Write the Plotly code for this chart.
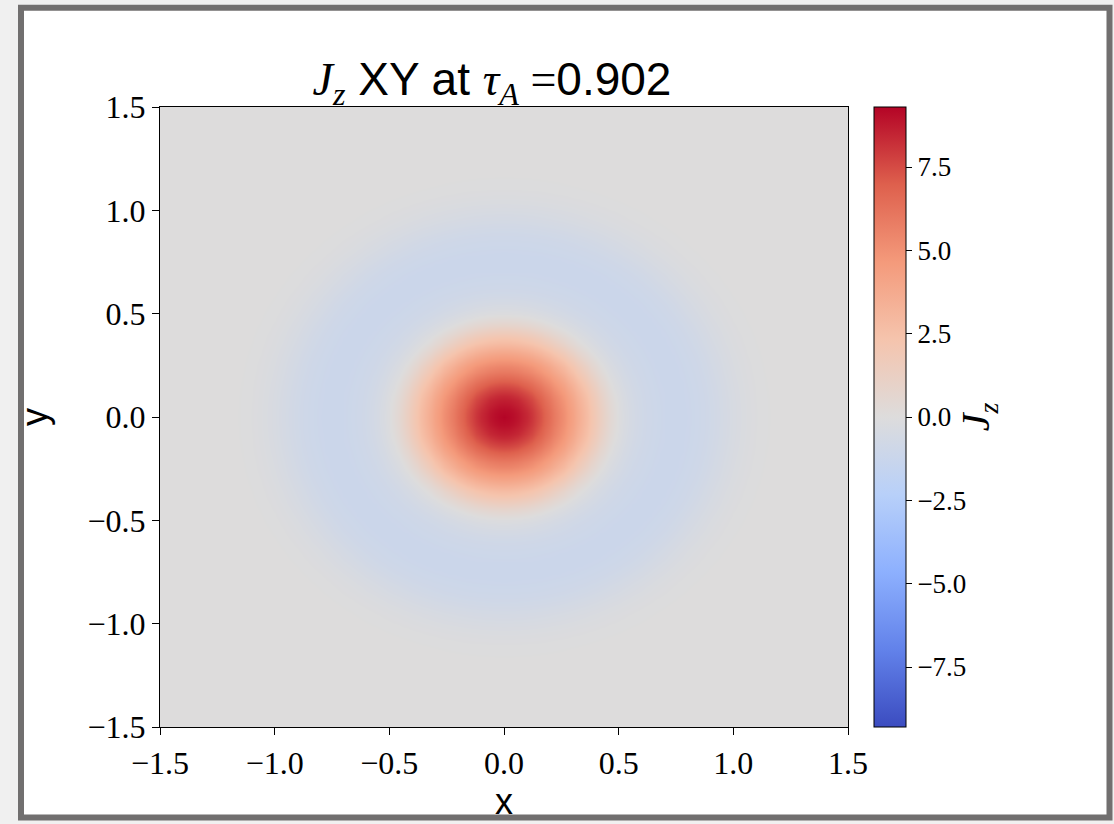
import numpy as np
import plotly.graph_objects as go

# Radial profile of Jz (radius step 0.05, from r = 0)
RADIUS_STEP = 0.05
JZ_PROFILE = [9.3, 9.0, 8.4, 7.5, 6.4, 5.3, 4.2, 3.0, 1.8, 0.7,
              -0.1, -0.55, -0.85, -1.0, -1.1, -1.12, -1.1, -1.0, -0.85, -0.62,
              -0.4, -0.22, -0.1, -0.04, 0.0, 0.0, 0.0, 0.0, 0.0, 0.0,
              0.0, 0.0, 0.0, 0.0, 0.0, 0.0, 0.0, 0.0, 0.0, 0.0,
              0.0, 0.0, 0.0, 0.0, 0.0]
X_TICKS = [-1.5, -1.0, -0.5, 0.0, 0.5, 1.0, 1.5]
X_TICK_LABELS = ["−1.5", "−1.0", "−0.5", "0.0", "0.5", "1.0", "1.5"]
Y_TICKS = X_TICKS
Y_TICK_LABELS = X_TICK_LABELS
CB_TICKS = [-7.5, -5.0, -2.5, 0.0, 2.5, 5.0, 7.5]
CB_TICK_LABELS = ["−7.5", "−5.0", "−2.5", "0.0", "2.5", "5.0", "7.5"]
Z_LIMIT = 9.3

# image grid: each cell shows the radial profile at its distance from the centre
grid = np.round(np.linspace(-1.5, 1.5, 151), 4)
gx, gy = np.meshgrid(grid, grid)
rad = np.sqrt(gx ** 2 + gy ** 2)
profile_r = np.arange(len(JZ_PROFILE)) * RADIUS_STEP
z = np.interp(rad, profile_r, JZ_PROFILE)

coolwarm = [
    [0.0, "#3b4cc0"], [0.125, "#6282ea"], [0.25, "#8db0fe"], [0.375, "#b8d0f9"],
    [0.5, "#dddcdc"], [0.625, "#f5c4ad"], [0.75, "#f49a7b"], [0.875, "#de604d"],
    [1.0, "#b40426"],
]

W, H = 1114, 824
L, R, T, B = 160, 1114 - 848, 107, 824 - 731
pw, ph = W - L - R, H - T - B

def px_x(px):
    return (px - L) / pw

def px_y(py):
    return (H - B - py) / ph

serif = "Liberation Serif"
sans = "Liberation Sans"

fig = go.Figure()
fig.add_trace(go.Heatmap(
    x=grid, y=grid, z=z,
    zmin=-Z_LIMIT, zmax=Z_LIMIT,
    colorscale=coolwarm, zsmooth="best",
    hoverinfo="skip",
    colorbar=dict(
        x=px_x(874), xanchor="left", xpad=0,
        y=0, yanchor="bottom", len=1, lenmode="fraction", ypad=0,
        thickness=32, thicknessmode="pixels",
        outlinecolor="black", outlinewidth=1,
        tickmode="array", tickvals=CB_TICKS, ticktext=CB_TICK_LABELS,
        ticks="outside", ticklen=6, tickwidth=1, tickcolor="black",
        tickfont=dict(family=serif, size=27, color="black"),
        title=dict(text="<i>J</i><sub><i>z</i></sub>", side="right",
                   font=dict(family=serif, size=40, color="black")),
    ),
    showscale=True,
))

fig.update_xaxes(
    range=[-1.5, 1.5], tickmode="array", tickvals=X_TICKS, ticktext=X_TICK_LABELS,
    ticks="outside", ticklen=7, tickwidth=1.2, tickcolor="black",
    showline=True, linecolor="black", linewidth=1.3, mirror=True,
    showgrid=False, zeroline=False,
    tickfont=dict(family=serif, size=32, color="black"),
    title=dict(text="x", font=dict(family=sans, size=36, color="black"), standoff=6),
)
fig.update_yaxes(
    range=[-1.5, 1.5], tickmode="array", tickvals=Y_TICKS, ticktext=Y_TICK_LABELS,
    ticks="outside", ticklen=7, tickwidth=1.2, tickcolor="black",
    showline=True, linecolor="black", linewidth=1.3, mirror=True,
    showgrid=False, zeroline=False,
    tickfont=dict(family=serif, size=32, color="black"),
    title=dict(text="y", font=dict(family=sans, size=36, color="black"), standoff=28),
)

title_text = ("<span style='font-family:Liberation Serif'><i>J</i><sub><i>z</i></sub></span>"
              " XY at "
              "<span style='font-family:Liberation Serif'><i>τ</i><sub><i>A</i></sub> =</span>0.902")

fig.update_layout(
    width=W, height=H,
    margin=dict(l=L, r=R, t=T, b=B, pad=0),
    paper_bgcolor="#f0f0f0",
    plot_bgcolor="#dddcdc",
    title=dict(text=title_text, x=px_x(492), xref="paper", xanchor="center",
               y=1 - 95 / H, yref="container", yanchor="bottom",
               font=dict(family=sans, size=46, color="black")),
    shapes=[dict(type="rect", xref="paper", yref="paper",
                 x0=px_x(21), x1=px_x(1109.5), y0=px_y(822), y1=px_y(7),
                 line=dict(color="#716f6f", width=6), fillcolor="white",
                 layer="below")],
)

fig.write_html("out.html",
               config={"displayModeBar": False},
               post_script="document.body.style.margin='0';document.body.style.overflow='hidden';")
